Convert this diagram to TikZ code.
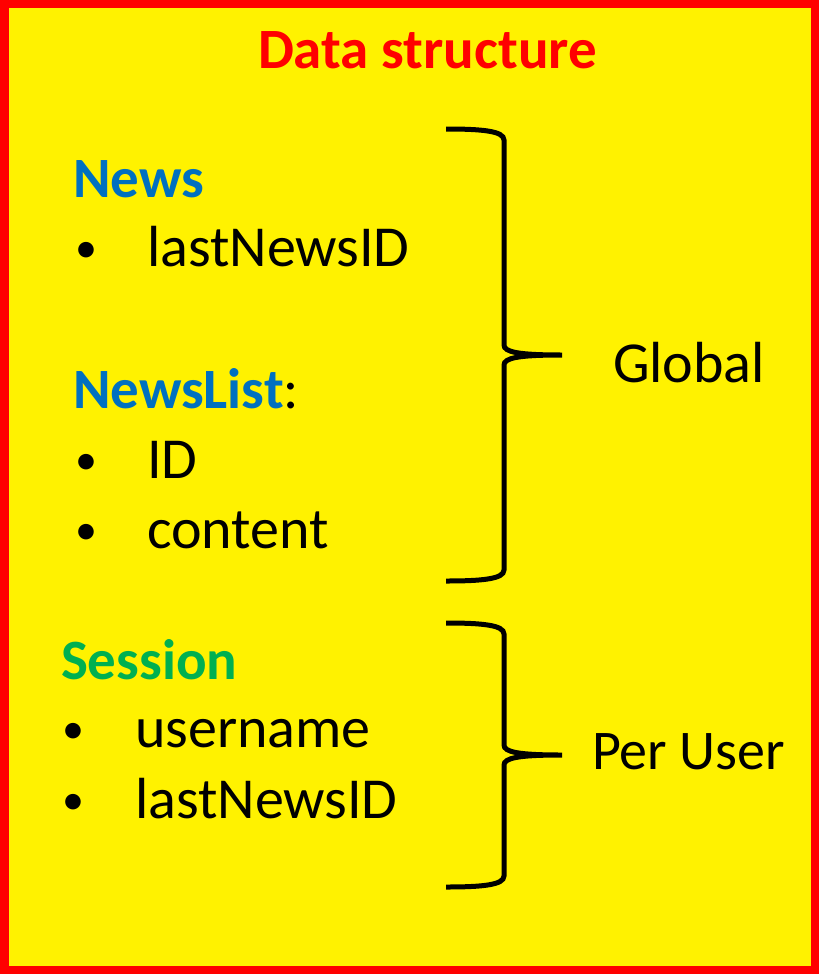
\documentclass[tikz,border=0pt]{standalone}
\usepackage{fontspec}
\setmainfont{Carlito}
\definecolor{newsblue}{RGB}{0,112,192}
\definecolor{sessiongreen}{RGB}{0,176,80}

\begin{document}
\begin{tikzpicture}[x=1pt,y=-1pt]
	\tikzstyle{every node}=[inner sep=0pt,outer sep=0pt,anchor=base west]
	\tikzstyle{title}=[anchor=base,text=red,font=\fontsize{57}{64}\selectfont\bfseries]
	\tikzstyle{head}=[font=\fontsize{57}{66}\selectfont\bfseries]
	\tikzstyle{entry}=[font=\fontsize{58}{66}\selectfont]
	\tikzstyle{dot}=[font=\fontsize{44}{50}\selectfont]
	\tikzstyle{brace}=[line width=5pt,black]
	\useasboundingbox (0,0) rectangle (819,974);
	\draw[red,fill=yellow,line width=8.5pt] (4.25,4.25) rectangle (814.75,969.75);
	\node[title] (title) at (427.5,68) {Data structure};
	% global part
	\node[head,text=newsblue] (news) at (73,197) {News};
	\node[dot] (dot1) at (75,262) {\textbullet};
	\node[entry] (lastid) at (147,266) {lastNewsID};
	\node[head] (newslist) at (73,408) {\textcolor{newsblue}{NewsList}\mdseries:};
	\node[dot] (dot2) at (75,474) {\textbullet};
	\node[entry] (id) at (147,478) {ID};
	\node[dot] (dot3) at (75,544) {\textbullet};
	\node[entry] (content) at (147,548) {content};
	% per user part
	\node[head,text=sessiongreen] (session) at (61,679) {Session};
	\node[dot] (dot4) at (62,743) {\textbullet};
	\node[entry] (user) at (135,747) {username};
	\node[dot] (dot5) at (62,814) {\textbullet};
	\node[entry] (userid) at (135,818) {lastNewsID};
	% braces
	\foreach \t/\m/\b in {129/355/581, 623/755/887}
		\draw[brace] (446,\t) .. controls (482,\t) and (504,\t+2) .. (504,\t+11)
			-- (504,\m-10) .. controls (504,\m-3) and (518,\m) .. (562,\m)
			.. controls (518,\m) and (504,\m+3) .. (504,\m+10)
			-- (504,\b-11) .. controls (504,\b-2) and (482,\b) .. (446,\b);
	\node[entry] (global) at (613,382) {Global};
	\node[entry,font=\fontsize{56}{64}\selectfont] (peruser) at (592,769) {Per User};
\end{tikzpicture}
\end{document}
